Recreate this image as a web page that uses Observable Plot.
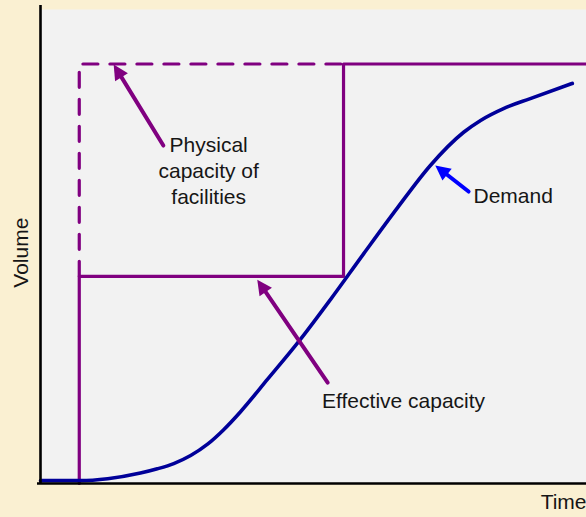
<!DOCTYPE html>
<html><head><meta charset="utf-8">
<script src="https://cdn.jsdelivr.net/npm/d3@7"></script>
<script src="https://cdn.jsdelivr.net/npm/@observablehq/plot@0.6"></script>
<style>
html,body{margin:0;padding:0;background:#faf0d2;}
#chart svg{display:block}
</style></head><body><div id="chart"></div>
<script>
// Demand curve (time, volume)
const demandTime   = [0, 7.3, 12.3, 18.3, 21.4, 24.4, 27.5, 30.6, 33.5, 36.6, 41.6, 47.6, 53.1, 59.2, 65.4, 71.4, 77.5, 80.6, 84.8, 89.7, 97.4];
const demandVolume = [0.6, 0.6, 1.0, 2.2, 3.1, 4.2, 5.9, 8.3, 11.3, 15.1, 22.0, 30.4, 38.8, 48.5, 58.2, 67.1, 74.1, 76.6, 79.1, 81.2, 84.4];

// Effective capacity (solid step) and physical capacity (dashed)
const effectiveTime   = [7.1, 7.1, 55.5, 55.5, 100];
const effectiveVolume = [0, 43.7, 43.7, 88.5, 88.5];
const physicalTime    = [7.1, 7.1, 55.5];
const physicalVolume  = [43.7, 88.5, 88.5];

// Annotations
const labelText = ["Physical\ncapacity of\nfacilities", "Effective capacity", "Demand"];
const labelX    = [30.8, 66.5, 79.3];
const labelY    = [66.2, 17.7, 60.5];
const labelAnchor = ["middle", "middle", "start"];

const arrowFromX = [22.5, 52.6, 78.4];
const arrowFromY = [71.3, 21.3, 61.6];
const arrowToX   = [13.4, 39.7, 72.3];
const arrowToY   = [88.4, 43.0, 67.1];
const arrowColor = ["#800080", "#800080", "#0000ff"];

const axisNames = ["Volume", "Time"];

const W = 586, H = 517;
const mL = 40, mR = 0, mT = 9, mB = 34;
const xDomain = [0, 100], yDomain = [0, 100];
const kx = (W - mL - mR) / (xDomain[1] - xDomain[0]);
const ky = (H - mT - mB) / (yDomain[1] - yDomain[0]);

const demand = demandTime.map((t, i) => ({t, v: demandVolume[i]}));
const effective = effectiveTime.map((t, i) => ({t, v: effectiveVolume[i]}));
const physical = physicalTime.map((t, i) => ({t, v: physicalVolume[i]}));
const labels = labelText.map((s, i) => ({s, x: labelX[i], y: labelY[i], a: labelAnchor[i]}));
const arrows = arrowFromX.map((x1, i) => {
  const x2 = arrowToX[i], y1 = arrowFromY[i], y2 = arrowToY[i];
  const ang = Math.atan2((x2 - x1) * kx, (y2 - y1) * ky) * 180 / Math.PI;
  return {x1, y1, x2, y2, c: arrowColor[i], ang};
});

const font = "Liberation Sans, Arial, Helvetica, sans-serif";
const fs = 21;

const chart = Plot.plot({
  width: W, height: H,
  marginLeft: mL, marginRight: mR, marginTop: mT, marginBottom: mB,
  x: {domain: xDomain, axis: null},
  y: {domain: yDomain, axis: null},
  style: {background: "#faf0d2", fontFamily: font, overflow: "visible"},
  marks: [
    Plot.frame({fill: "#f2f2f2", stroke: "none"}),
    Plot.line(physical, {x: "t", y: "v", stroke: "#800080", strokeWidth: 3.2, strokeDasharray: "15,12", curve: "linear"}),
    Plot.line(effective, {x: "t", y: "v", stroke: "#800080", strokeWidth: 3.2, curve: "linear"}),
    Plot.line(demand, {x: "t", y: "v", stroke: "#000099", strokeWidth: 3.6, curve: "monotone-x"}),
    Plot.arrow(arrows, {x1: "x1", y1: "y1", x2: "x2", y2: "y2", stroke: "c", strokeWidth: 4, headLength: 0, insetEnd: 9}),
    Plot.vector(arrows, {x: "x2", y: "y2", rotate: "ang", length: 15, r: 7.5, shape: "spike", anchor: "end", fill: "c", stroke: "none"}),
    Plot.text(labels.filter(d => d.a === "middle"), {x: "x", y: "y", text: "s", fontSize: fs, lineHeight: 1.22, lineAnchor: "middle", textAnchor: "middle", fill: "#161616"}),
    Plot.text(labels.filter(d => d.a === "start"), {x: "x", y: "y", text: "s", fontSize: fs, lineAnchor: "middle", textAnchor: "start", fill: "#161616"}),
    Plot.text([axisNames[0]], {x: -3.5, y: 48.7, text: d => d, rotate: -90, fontSize: fs, lineAnchor: "middle", textAnchor: "middle", fill: "#161616"}),
    Plot.text([axisNames[1]], {x: 91.6, y: -4.0, text: d => d, fontSize: fs, lineAnchor: "middle", textAnchor: "start", fill: "#161616"}),
    Plot.ruleX([0], {y1: 0, y2: 100.85, stroke: "#000", strokeWidth: 2.6}),
    Plot.ruleY([0], {x1: -0.55, x2: 100, stroke: "#000", strokeWidth: 2.6})
  ]
});
document.getElementById("chart").appendChild(chart);
</script></body></html>
